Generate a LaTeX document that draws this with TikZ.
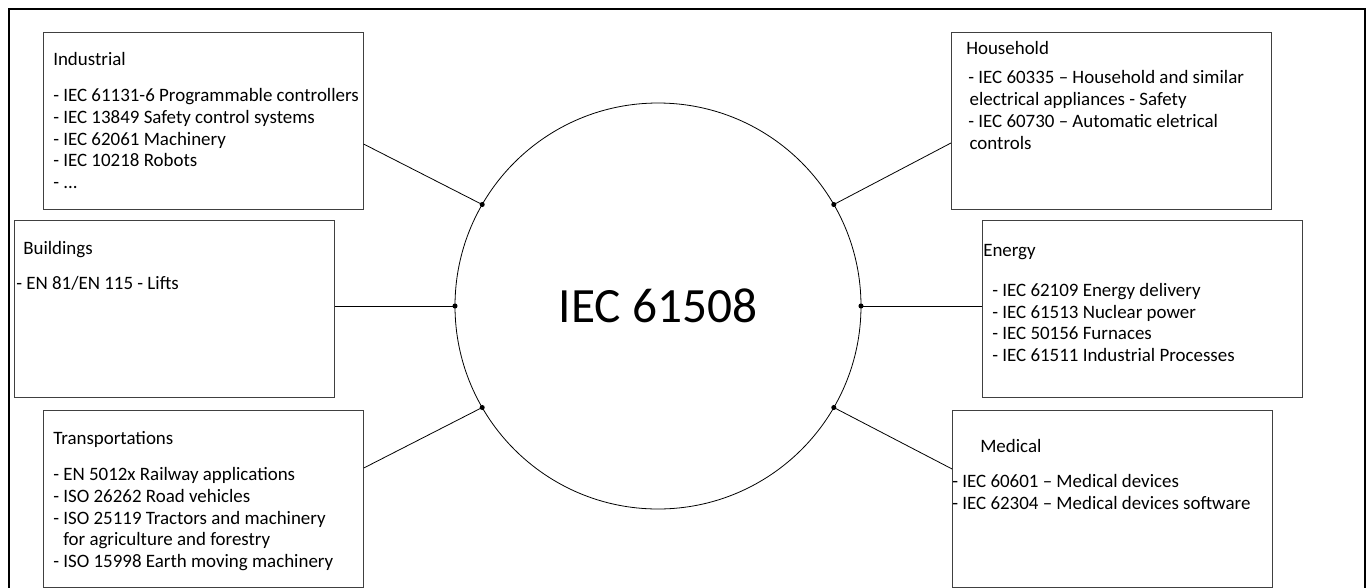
\documentclass[tikz,border=0pt]{standalone}
\usepackage{fontspec}
\setmainfont{Carlito}
\usepackage{tikz}
\usetikzlibrary{calc}

\begin{document}
\begin{tikzpicture}[
  x=0.75pt, y=-0.75pt,
  box/.style={rectangle, draw=black!75, line width=0.6pt, anchor=north west, minimum width=240.5pt, minimum height=132.75pt, inner sep=0pt, outer sep=0pt},
  txt/.style={anchor=base west, align=left, inner sep=0pt, font=\fontsize{14.2}{16.3}\selectfont},
  hub/.style={circle, draw, line width=0.6pt, minimum size=304.5pt, inner sep=0pt, outer sep=0pt, font=\fontsize{37}{44}\selectfont},
  link/.style={line width=0.6pt},
  frame/.style={line width=1.8pt}
]
\useasboundingbox (0,0) rectangle (1372,587);

\draw[frame] (8.75,590) |- (1365,8.75) -- (1365,590);

\node[hub] (iec) at (658,306) {IEC 61508};

\node[box] (ind) at (43,32) {};
\node[box] (hou) at (951,32) {};
\node[box] (bld) at (14,220) {};
\node[box] (nrg) at (982,220) {};
\node[box] (tra) at (43,410) {};
\node[box] (med) at (952,410) {};

% lists sit on the baseline of their last line
\node[txt] (indHead) at (53,65.7) {Industrial};
\node[txt] (indList) at (53,188.5) {- IEC 61131-6 Programmable controllers\\- IEC 13849 Safety control systems\\- IEC 62061 Machinery\\- IEC 10218 Robots\\- ...};
\node[txt] (houHead) at (966,54) {Household};
\node[txt] (houList) at (968,149) {- IEC 60335 -- Household and similar\\\hspace*{1pt}electrical appliances - Safety\\- IEC 60730 -- Automatic eletrical\\\hspace*{1pt}controls};
\node[txt] (bldHead) at (23,254.3) {Buildings};
\node[txt] (bldList) at (16,289.3) {- EN 81/EN 115 - Lifts};
\node[txt] (nrgHead) at (983,256.7) {Energy};
\node[txt] (nrgList) at (992,361.5) {- IEC 62109 Energy delivery\\- IEC 61513 Nuclear power\\- IEC 50156 Furnaces\\- IEC 61511 Industrial Processes};
\node[txt] (traHead) at (53,444.3) {Transportations};
\node[txt] (traList) at (53,567.5) {- EN 5012x Railway applications\\- ISO 26262 Road vehicles\\- ISO 25119 Tractors and machinery\\\hspace*{7.5pt}for agriculture and forestry\\- ISO 15998 Earth moving machinery};
\node[txt] (medHead) at (980,452.7) {Medical};
\node[txt] (medList) at (952,509.7) {- IEC 60601 -- Medical devices\\- IEC 62304 -- Medical devices software};

\coordinate (indP) at ($(ind.north east)!0.633!(ind.south east)$);
\coordinate (houP) at ($(hou.north west)!0.627!(hou.south west)$);
\coordinate (bldP) at (iec.180 -| bld.east);
\coordinate (nrgP) at (iec.0 -| nrg.west);
\coordinate (traP) at ($(tra.north east)!0.328!(tra.south east)$);
\coordinate (medP) at ($(med.north west)!0.333!(med.south west)$);

\foreach \a/\b in {indP/150, houP/30, bldP/180, nrgP/0, traP/210, medP/330}
  \draw[link] (\a) -- (iec.\b);

\foreach \b in {0,30,150,180,210,330}
  \fill (iec.\b) circle (1.9pt);

\end{tikzpicture}
\end{document}
